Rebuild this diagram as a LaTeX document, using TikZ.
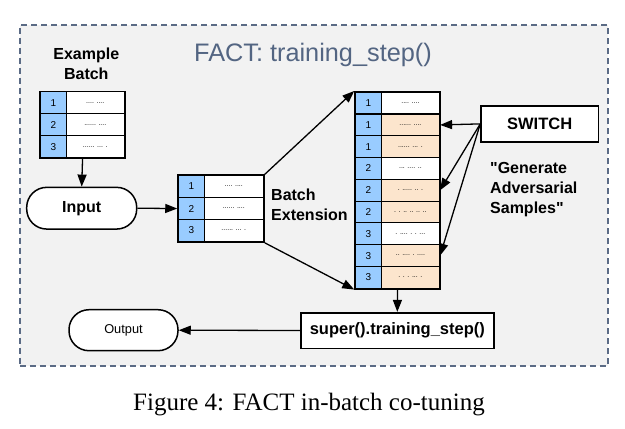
\documentclass[tikz,border=0pt]{standalone}
\usepackage{fontspec}
\setmainfont{Liberation Serif}
\setsansfont{Liberation Sans}[Ligatures=TeXOff]
\usetikzlibrary{arrows.meta,fit}
\definecolor{bgc}{HTML}{F2F2F2}
\definecolor{framec}{HTML}{5B6B85}
\definecolor{titlec}{HTML}{536582}
\definecolor{numblue}{HTML}{99CCFF}
\definecolor{peach}{HTML}{FCE5CD}
\begin{document}
\begin{tikzpicture}[x=1pt,y=-1pt,
  numcell/.style={draw=black, line width=1.1pt, fill=numblue, minimum width=25.5pt, minimum height=#1, inner sep=0pt, anchor=north west, font=\sffamily\fontsize{10}{11}\selectfont},
  txtcell/.style={draw=black, line width=1.1pt, fill=white, minimum width=58.5pt, minimum height=#1, inner sep=0pt, anchor=north west, font=\sffamily\fontsize{7}{8}\selectfont},
  tabframe/.style={draw=black, line width=1.5pt, inner sep=0pt},
  lbl/.style={font=\sffamily\bfseries\fontsize{16}{19}\selectfont, anchor=base, inner sep=0pt},
  lbll/.style={font=\sffamily\bfseries\fontsize{16}{19}\selectfont, anchor=base west, inner sep=0pt},
  stadium/.style={draw=black, line width=1.5pt, fill=white, rounded corners=20pt, inner sep=0pt},
  plainbox/.style={draw=black, line width=1.6pt, fill=white, inner sep=0pt, font=\sffamily\bfseries\fontsize{16.5}{19}\selectfont},
  arr/.style={line width=1.3pt, -{Triangle[length=12pt,width=9pt]}},
  con/.style={line width=1.3pt}
]
\useasboundingbox (0,0) rectangle (625,429);
% background frame
\node[draw=framec, line width=1.5pt, dash pattern=on 6pt off 4pt, fill=bgc, minimum width=588pt, minimum height=341pt, inner sep=0pt, anchor=north west] (frame) at (19,24) {};
\node[font=\sffamily\fontsize{25.3}{28}\selectfont, text=titlec, anchor=base, inner sep=0pt] (title) at (313,61.7) {FACT: training\_step()};

% Example batch
\node[lbl] (exl1) at (86.3,59.3) {Example};
\node[lbl] (exl2) at (86.3,79) {Batch};
\foreach \i/\t in {1/{.... ....},2/{...... ....},3/{...... ... .}} {
  \node[numcell=22pt] (exn\i) at (40,{91.3+22*(\i-1)}) {\i};
  \node[txtcell=22pt] (ext\i) at (65.5,{91.3+22*(\i-1)}) {\t};
}
\node[tabframe, fit=(exn1)(ext3)] (extab) {};

% Input
\node[stadium, minimum width=110pt, minimum height=41.7pt, font=\sffamily\bfseries\fontsize{16}{19}\selectfont] (input) at (81.7,208.2) {Input};

% middle table
\foreach \i/\t in {1/{.... ....},2/{...... ....},3/{...... ... .}} {
  \node[numcell=22pt] (mdn\i) at (178,{175+22*(\i-1)}) {\i};
  \node[txtcell=22pt, minimum width=59.5pt] (mdt\i) at (203.5,{175+22*(\i-1)}) {\t};
}
\node[tabframe, fit=(mdn1)(mdt3)] (mdtab) {};
\node[lbll] (bel1) at (271,200.7) {Batch};
\node[lbll] (bel2) at (271,220) {Extension};

% big table
\foreach \i/\n/\c/\t in {1/1/white/{.... ....},2/1/peach/{...... ....},3/1/peach/{...... ... .},4/2/white/{... .... ..},5/2/peach/{. ..... .. .},6/2/peach/{. . .. .. .. ..},7/3/white/{. .... . . ...},8/3/peach/{.. .... . ....},9/3/peach/{. . . ... .}} {
  \node[numcell=21.78pt, minimum width=25.7pt] (bgn\i) at (355,{91.7+21.78*(\i-1)}) {\n};
  \node[txtcell=21.78pt, minimum width=58.3pt, fill=\c] (bgt\i) at (380.7,{91.7+21.78*(\i-1)}) {\t};
}
\node[tabframe, fit=(bgn1)(bgt9)] (bgtab) {};

% switch
\node[plainbox, minimum width=117.3pt, minimum height=35.7pt] (switch) at (539.7,123.9) {SWITCH};
\node[lbll] (gen1) at (490,173.3) {"Generate};
\node[lbll] (gen2) at (490,193.3) {Adversarial};
\node[lbll] (gen3) at (490,213.3) {Samples"};

% super
\node[plainbox, minimum width=193pt, minimum height=35.6pt] (super) at (397.3,330.5) {super().training\_step()};
\node[stadium, minimum width=109pt, minimum height=41pt, font=\sffamily\fontsize{12.8}{15}\selectfont] (output) at (123.5,330.2) {Output};

% connectors
\draw[arr] (extab.south) -- (input.north);
\draw[arr] (input.east) -- (mdtab.west);
\draw[arr] (mdtab.north east) -- (bgtab.north west);
\draw[arr] (mdtab.south east) -- (bgtab.south west);
\draw[arr] (switch.west) -- (bgt2.east);
\draw[arr] (switch.west) -- (bgt5.east);
\draw[arr] (switch.west) -- (bgt8.east);
\draw[arr] (bgtab.south) -- (super.north);
\draw[arr] (super.west) -- (output.east);

% caption
\node[font=\rmfamily\fontsize{25}{28}\selectfont, anchor=base, inner sep=0pt] (caption) at (309,410.7) {Figure 4: FACT in-batch co-tuning};
\end{tikzpicture}
\end{document}
